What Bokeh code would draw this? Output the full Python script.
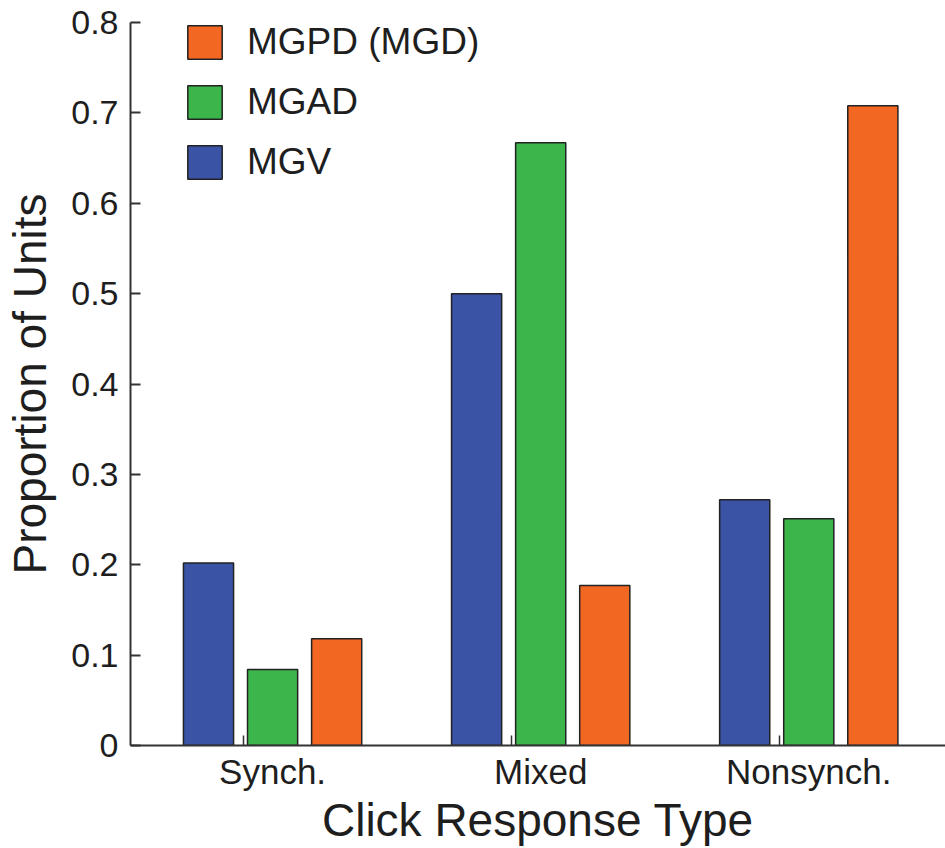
from bokeh.plotting import figure
from bokeh.models import FixedTicker, Legend, LegendItem, Range1d
from bokeh.embed import file_html
from bokeh.resources import INLINE

categories = ["Synch.", "Mixed", "Nonsynch."]
mgv = [0.202, 0.500, 0.272]
mgad = [0.084, 0.667, 0.251]
mgpd = [0.118, 0.177, 0.708]
y_ticks = [0, 0.1, 0.2, 0.3, 0.4, 0.5, 0.6, 0.7, 0.8]
y_tick_labels = ["0", "0.1", "0.2", "0.3", "0.4", "0.5", "0.6", "0.7", "0.8"]

FONT = "Liberation Sans"
TXT = "#1e1e1e"
colors = {"MGV": "#3A53A4", "MGAD": "#3CB54A", "MGPD (MGD)": "#F26722"}

pos = [i + 1 for i in range(len(categories))]
off = 0.239
bw = 0.187

p = figure(width=945, height=848, output_backend="svg", toolbar_location=None,
           x_range=Range1d(0.47, 3.51), y_range=Range1d(0, 0.8),
           min_border_left=130, min_border_bottom=103, min_border_top=22,
           min_border_right=0)
p.outline_line_color = None
p.grid.visible = False

r_mgv = p.vbar(x=[c - off for c in pos], top=mgv, width=bw, fill_color=colors["MGV"],
               line_color="#222222", line_width=1.5)
r_mgad = p.vbar(x=pos, top=mgad, width=bw, fill_color=colors["MGAD"],
                line_color="#222222", line_width=1.5)
r_mgpd = p.vbar(x=[c + off for c in pos], top=mgpd, width=bw, fill_color=colors["MGPD (MGD)"],
                line_color="#222222", line_width=1.5)

# axes
xa = p.xaxis[0]
xa.ticker = FixedTicker(ticks=pos, minor_ticks=[c - 0.11 for c in pos])
xa.major_label_overrides = {c: lab for c, lab in zip(pos, categories)}
xa.major_tick_in = 0
xa.major_tick_out = 0
xa.minor_tick_in = 10
xa.minor_tick_out = 0
xa.axis_label = "Click Response Type"

ya = p.yaxis[0]
ya.ticker = FixedTicker(ticks=y_ticks)
ya.major_label_overrides = {t: lab for t, lab in zip(y_ticks, y_tick_labels)}
ya.major_tick_in = 10
ya.major_tick_out = 0
ya.minor_tick_line_color = None
ya.axis_label = "Proportion of Units"

for ax in (xa, ya):
    ax.axis_line_color = "#333333"
    ax.axis_line_width = 2
    ax.major_tick_line_color = "#333333"
    ax.major_tick_line_width = 2
    ax.minor_tick_line_color = "#333333"
    ax.minor_tick_line_width = 1.5
    ax.major_label_text_font = FONT
    ax.major_label_text_color = TXT
    ax.axis_label_text_font = FONT
    ax.axis_label_text_font_size = "46px"
    ax.axis_label_text_font_style = "normal"
    ax.axis_label_text_color = TXT
ya.minor_tick_line_color = None
ya.major_label_text_font_size = "34px"
xa.major_label_text_font_size = "35px"
ya.major_label_standoff = 12
ya.axis_label_standoff = 12
xa.major_label_standoff = 6
xa.axis_label_standoff = 0

legend = Legend(items=[LegendItem(label="MGPD (MGD)", renderers=[r_mgpd]),
                       LegendItem(label="MGAD", renderers=[r_mgad]),
                       LegendItem(label="MGV", renderers=[r_mgv])],
                location=(53, 561), orientation="vertical")
legend.glyph_width = 43
legend.glyph_height = 42
legend.label_height = 44
legend.spacing = 16
legend.label_standoff = 21
legend.padding = 0
legend.margin = 0
legend.border_line_color = None
legend.background_fill_alpha = 0
legend.label_text_font = FONT
legend.label_text_font_size = "37px"
legend.label_text_color = TXT
p.add_layout(legend)

open("out.html", "w").write(file_html(p, INLINE))
